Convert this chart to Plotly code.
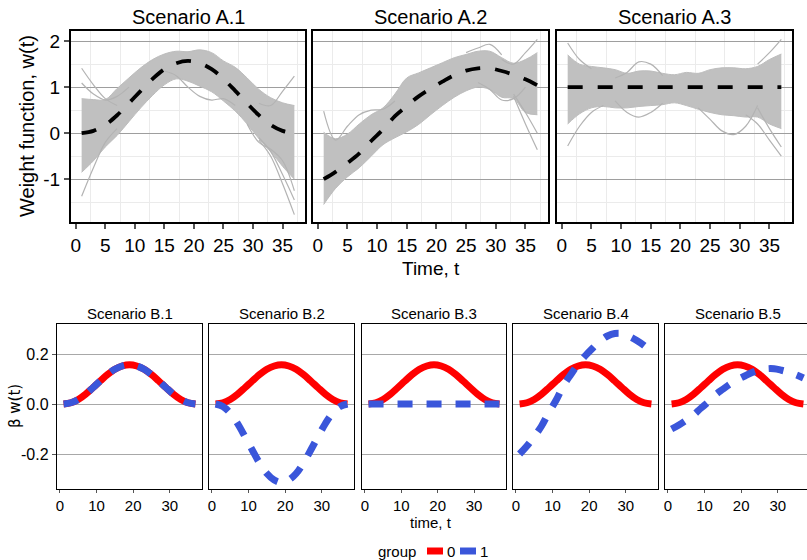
import plotly.graph_objects as go

W, H = 807, 560
FONT = "Liberation Sans, Arial, sans-serif"

# ---------------- data ----------------
T = [1, 3, 5, 7, 9, 11, 13, 15, 17, 19, 21, 23, 25, 27, 29, 31, 33, 35, 37]

# Top row: true weight functions (dashed black)
A1_mean = [0, 0.05, 0.18, 0.39, 0.65, 0.92, 1.18, 1.39, 1.52, 1.57, 1.52, 1.39, 1.18, 0.92, 0.65, 0.39, 0.18, 0.05, 0]
A2_mean = [-1.0, -0.84, -0.65, -0.44, -0.17, 0.08, 0.37, 0.59, 0.8, 0.97, 1.12, 1.26, 1.36, 1.41, 1.41, 1.35, 1.27, 1.17, 1.04]
A3_mean = [1.0] * 19

# Top row: dense band of estimated curves (upper / lower edge)
A1_upper = [0.75, 0.73, 0.73, 0.97, 1.2, 1.42, 1.6, 1.72, 1.78, 1.77, 1.81, 1.75, 1.57, 1.43, 1.2, 0.95, 0.77, 0.66, 0.6]
A1_lower = [-0.85, -0.6, -0.3, -0.05, 0.25, 0.55, 0.82, 1.05, 1.18, 1.13, 1.02, 0.9, 0.7, 0.48, 0.2, -0.12, -0.4, -0.72, -1.0]
A2_upper = [0.02, -0.12, -0.02, 0.2, 0.4, 0.55, 0.85, 1.2, 1.31, 1.42, 1.53, 1.64, 1.71, 1.78, 1.78, 1.64, 1.52, 1.6, 1.75]
A2_lower = [-1.55, -1.2, -0.95, -0.75, -0.5, -0.25, -0.1, 0.03, 0.19, 0.4, 0.6, 0.78, 0.92, 1.0, 0.95, 0.78, 0.75, 0.45, 0.4]
A3_upper = [1.7, 1.5, 1.45, 1.42, 1.38, 1.3, 1.35, 1.35, 1.3, 1.27, 1.32, 1.3, 1.38, 1.42, 1.42, 1.4, 1.45, 1.6, 1.72]
A3_lower = [0.2, 0.42, 0.55, 0.58, 0.55, 0.55, 0.58, 0.6, 0.62, 0.66, 0.6, 0.52, 0.45, 0.4, 0.38, 0.35, 0.35, 0.2, 0.1]

# Top row: individual outlying curves (t, w)
A1_out = [
    ([1, 3, 5, 7], [1.41, 1.05, 0.75, 0.6]),
    ([1, 3, 5, 7, 9], [1.09, 0.85, 0.72, 0.8, 1.0]),
    ([1, 3, 5, 7], [-1.37, -0.75, -0.2, 0.1]),
    ([15, 17, 19, 21, 23, 25, 27], [1.35, 1.25, 1.0, 0.8, 0.72, 0.75, 0.6]),
    ([31, 33, 35, 37], [0.65, 0.6, 0.91, 1.24]),
    ([31, 33, 35, 37], [-0.15, -0.5, -1.1, -1.77]),
    ([31, 33, 35, 37], [-0.1, -0.4, -0.9, -1.45]),
    ([29, 31, 33, 35, 37], [0.2, -0.2, -0.35, -0.6, -1.25]),
]
A2_out = [
    ([1, 3, 5, 7, 9, 11, 13], [0.48, -0.15, 0.15, 0.4, 0.5, 0.52, 0.7]),
    ([31, 33, 35, 37], [1.6, 1.5, 1.75, 2.04]),
    ([25, 27, 29, 31], [1.75, 1.85, 1.93, 1.7]),
    ([27, 29, 31, 33, 35], [1.1, 0.95, 0.72, 0.75, 1.0]),
    ([33, 35, 37], [0.8, 0.2, -0.36]),
    ([33, 35, 37], [0.85, 0.45, 0.0]),
]
A3_out = [
    ([1, 3, 5], [1.96, 1.6, 1.4]),
    ([1, 3, 5, 7], [-0.28, 0.15, 0.45, 0.6]),
    ([9, 11, 13, 15, 17], [1.2, 1.32, 1.55, 1.5, 1.25]),
    ([9, 11, 13, 15, 17], [0.7, 0.45, 0.35, 0.45, 0.65]),
    ([23, 25, 27, 29, 31, 33], [0.55, 0.3, 0.05, -0.03, 0.15, 0.6]),
    ([33, 35, 37], [1.5, 1.75, 2.04]),
    ([31, 33, 35, 37], [0.4, 0.2, -0.15, -0.5]),
    ([33, 35, 37], [0.55, 0.1, -0.3]),
]

# Bottom row: beta * w(t) for group 0 (red) and group 1 (blue)
B_red = [0, 0.005, 0.018, 0.039, 0.065, 0.092, 0.118, 0.139, 0.152, 0.157, 0.152, 0.139, 0.118, 0.092, 0.065, 0.039, 0.018, 0.005, 0]
B1_blue = [0, 0.005, 0.018, 0.039, 0.065, 0.092, 0.118, 0.139, 0.152, 0.157, 0.152, 0.139, 0.118, 0.092, 0.065, 0.039, 0.018, 0.005, 0]
B2_blue = [0, -0.01, -0.036, -0.078, -0.13, -0.184, -0.236, -0.278, -0.304, -0.314, -0.304, -0.278, -0.236, -0.184, -0.13, -0.078, -0.036, -0.01, 0]
B3_blue = [0.0] * 19
B4_blue = [-0.2, -0.168, -0.13, -0.088, -0.034, 0.016, 0.074, 0.118, 0.16, 0.194, 0.224, 0.252, 0.272, 0.282, 0.282, 0.27, 0.254, 0.234, 0.208]
B5_blue = [-0.1, -0.084, -0.065, -0.044, -0.017, 0.008, 0.037, 0.059, 0.08, 0.097, 0.112, 0.126, 0.136, 0.141, 0.141, 0.135, 0.127, 0.117, 0.104]

TOP_TITLES = ["Scenario A.1", "Scenario A.2", "Scenario A.3"]
BOT_TITLES = ["Scenario B.1", "Scenario B.2", "Scenario B.3", "Scenario B.4", "Scenario B.5"]
TOP_XTICKS = [0, 5, 10, 15, 20, 25, 30, 35]
TOP_YTICKS = [-1, 0, 1, 2]
BOT_XTICKS = [0, 10, 20, 30]
BOT_YTICKS = [-0.2, 0.0, 0.2]
BOT_YTEXT = ["-0.2", "0.0", "0.2"]
GROUPS = ["0", "1"]

RED = "#FF0000"
BLUE = "#3A56DA"
GREY = "#BDBDBD"

# ---------------- layout helpers ----------------
def px_x(a, b):
    return [a / W, min(b / W, 1.0)]

def px_y(top, bottom):
    return [1 - bottom / H, 1 - top / H]

top_x = [(71, 305), (313, 548), (557, 792)]
top_y = (31, 222)
bot_x = [(57, 202), (209, 354), (362, 506), (513, 658), (665, 810)]
bot_y = (324, 489)

fig = go.Figure()
layout = dict(
    width=W, height=H, margin=dict(l=0, r=0, t=0, b=0),
    paper_bgcolor="white", plot_bgcolor="white", showlegend=False,
    font=dict(family=FONT, color="black"),
)

annotations = []
shapes = []

# ----- top row -----
tops = [(A1_mean, A1_upper, A1_lower, A1_out),
        (A2_mean, A2_upper, A2_lower, A2_out),
        (A3_mean, A3_upper, A3_lower, A3_out)]
for i, (mean, up, lo, outs) in enumerate(tops):
    k = i + 1
    xa = "x" if k == 1 else f"x{k}"
    ya = "y" if k == 1 else f"y{k}"
    fig.add_trace(go.Scatter(x=T, y=lo, mode="lines", line=dict(width=1, color=GREY, shape="spline"),
                             xaxis=xa, yaxis=ya, hoverinfo="skip"))
    fig.add_trace(go.Scatter(x=T, y=up, mode="lines", line=dict(width=1, color=GREY, shape="spline"),
                             fill="tonexty", fillcolor="#C0C0C0", xaxis=xa, yaxis=ya, hoverinfo="skip"))
    for tt, ww in outs:
        fig.add_trace(go.Scatter(x=tt, y=ww, mode="lines", line=dict(width=1.2, color="#B3B3B3", shape="spline"),
                                 xaxis=xa, yaxis=ya, hoverinfo="skip"))
    fig.add_trace(go.Scatter(x=T, y=mean, mode="lines",
                             line=dict(width=3.8, color="black", dash="15px,15px", shape="spline"),
                             xaxis=xa, yaxis=ya))
    x0, x1 = top_x[i]
    layout["xaxis" if k == 1 else f"xaxis{k}"] = dict(
        domain=px_x(x0, x1), anchor=ya, range=[-0.8, 38.8],
        tickmode="array", tickvals=TOP_XTICKS, ticks="outside", ticklen=5, tickwidth=1.5, tickcolor="#555555",
        tickfont=dict(size=19, family=FONT, color="black"),
        showgrid=False, zeroline=False,
        minor=dict(tickvals=[2.5 + 5 * j for j in range(8)], showgrid=True, gridcolor="#EBEBEB", gridwidth=1, ticks=""),
        showline=True, mirror=True, linecolor="black", linewidth=2,
    )
    layout["yaxis" if k == 1 else f"yaxis{k}"] = dict(
        domain=px_y(*top_y), anchor=xa, range=[-1.93, 2.22],
        tickmode="array", tickvals=TOP_YTICKS, ticktext=[str(v) for v in TOP_YTICKS],
        ticks="outside" if k == 1 else "", ticklen=5, tickwidth=1.5, tickcolor="#555555",
        showticklabels=(k == 1), tickfont=dict(size=19, family=FONT, color="black"),
        showgrid=True, gridcolor="#9E9E9E", gridwidth=1.3, zeroline=False,
        minor=dict(tickvals=[-1.5, -0.5, 0.5, 1.5], showgrid=True, gridcolor="#EBEBEB", gridwidth=1, ticks=""),
        showline=True, mirror=True, linecolor="black", linewidth=2,
    )
    annotations.append(dict(text=TOP_TITLES[i], x=(x0 + x1) / 2 / W, y=1 - 17 / H, xref="paper", yref="paper",
                            showarrow=False, xanchor="center", yanchor="middle",
                            font=dict(size=20, family=FONT, color="black")))

annotations.append(dict(text="Time, t", x=431 / W, y=1 - 268 / H, xref="paper", yref="paper", showarrow=False,
                        xanchor="center", yanchor="middle", font=dict(size=19, family=FONT, color="black")))
annotations.append(dict(text="Weight function, w(t)", x=27 / W, y=1 - 126 / H, xref="paper", yref="paper",
                        showarrow=False, textangle=-90, xanchor="center", yanchor="middle",
                        font=dict(size=20, family=FONT, color="black")))

# ----- bottom row -----
blues = [B1_blue, B2_blue, B3_blue, B4_blue, B5_blue]
for i, blue in enumerate(blues):
    k = i + 4
    xa, ya = f"x{k}", f"y{k}"
    fig.add_trace(go.Scatter(x=T, y=B_red, mode="lines", name=GROUPS[0],
                             line=dict(width=7, color=RED, shape="spline"), xaxis=xa, yaxis=ya))
    fig.add_trace(go.Scatter(x=T, y=blue, mode="lines", name=GROUPS[1],
                             line=dict(width=7, color=BLUE, dash="15px,14px", shape="spline"), xaxis=xa, yaxis=ya))
    x0, x1 = bot_x[i]
    dom = px_x(x0, x1)
    xr = [-0.8, 38.8]
    if x1 > W:
        xr = [-0.8, -0.8 + 39.6 * (W - x0) / (x1 - x0)]
    layout[f"xaxis{k}"] = dict(
        domain=dom, anchor=ya, range=xr,
        tickmode="array", tickvals=BOT_XTICKS, ticks="outside", ticklen=3, tickwidth=1.2, tickcolor="#555555",
        tickfont=dict(size=15, family=FONT, color="black"),
        showgrid=False, zeroline=False,
        showline=True, mirror=True, linecolor="black", linewidth=1.4,
    )
    layout[f"yaxis{k}"] = dict(
        domain=px_y(*bot_y), anchor=xa, range=[-0.34, 0.32],
        tickmode="array", tickvals=BOT_YTICKS, ticktext=BOT_YTEXT,
        ticks="outside" if k == 4 else "", ticklen=4, tickwidth=1.2, tickcolor="#555555",
        showticklabels=(k == 4), tickfont=dict(size=16, family=FONT, color="black"),
        showgrid=True, gridcolor="#A8A8A8", gridwidth=1, zeroline=False,
        showline=True, mirror=(x1 <= W), linecolor="black", linewidth=1.4,
    )
    annotations.append(dict(text=BOT_TITLES[i], x=(x0 + x1) / 2 / W, y=1 - 313 / H, xref="paper", yref="paper",
                            showarrow=False, xanchor="center", yanchor="middle",
                            font=dict(size=15, family=FONT, color="black")))

annotations.append(dict(text="time, t", x=431 / W, y=1 - 522 / H, xref="paper", yref="paper", showarrow=False,
                        xanchor="center", yanchor="middle", font=dict(size=15, family=FONT, color="black")))
annotations.append(dict(text="β w(t)", x=15 / W, y=1 - 406 / H, xref="paper", yref="paper",
                        showarrow=False, textangle=-90, xanchor="center", yanchor="middle",
                        font=dict(size=15, family="DejaVu Sans, sans-serif", color="black")))

# ----- legend (drawn manually to match swatch shape) -----
ly = 551
annotations.append(dict(text="group", x=418 / W, y=1 - ly / H, xref="paper", yref="paper", showarrow=False,
                        xanchor="right", yanchor="middle", font=dict(size=15, family=FONT, color="black")))
for j, (col, lab, sx) in enumerate([(RED, GROUPS[0], 427), (BLUE, GROUPS[1], 460)]):
    shapes.append(dict(type="rect", xref="paper", yref="paper", x0=sx / W, x1=(sx + 16) / W,
                       y0=1 - (ly + 3.5) / H, y1=1 - (ly - 3.5) / H, fillcolor=col, line=dict(width=0)))
    annotations.append(dict(text=lab, x=(sx + 18) / W, y=1 - ly / H, xref="paper", yref="paper", showarrow=False,
                            xanchor="left", yanchor="middle", font=dict(size=15, family=FONT, color="black")))

layout["annotations"] = annotations
layout["shapes"] = shapes
fig.update_layout(**layout)
fig.write_html("out.html")
